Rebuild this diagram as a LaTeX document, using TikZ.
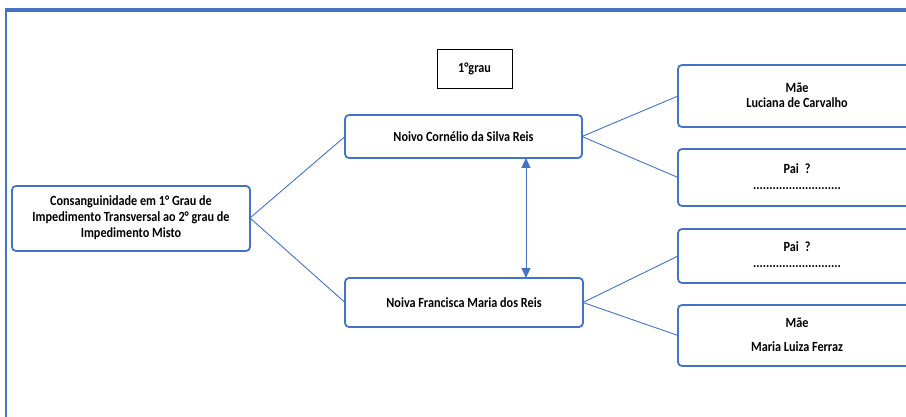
\documentclass[tikz,border=0pt]{standalone}
\usepackage{fontspec}
\usepackage{graphicx}
\setmainfont{Carlito}
\usetikzlibrary{arrows.meta}
\definecolor{ublue}{HTML}{4472C4}
\newcommand\tallt[1]{\scalebox{1}[1.15]{#1}}
\begin{document}
\begin{tikzpicture}[x=1pt,y=-1pt,
  bluebox/.style={draw=ublue,line width=1.8pt,rounded corners=4pt,fill=white},
  conn/.style={draw=ublue,line width=0.9pt},
  lbl/.style={font=\bfseries\fontsize{12.2}{15}\selectfont,inner sep=0pt}]
\useasboundingbox (0,0) rectangle (906,417);
\begin{scope}
\clip (0,0) rectangle (906,417);
% frame
\draw[ublue,line width=3.5pt] (5,10) -- (920,10);
\draw[ublue,line width=2.5pt] (6,9) -- (6,430);
% boxes
\draw[bluebox] (12,186) rectangle (250,251);
\coordinate (rootE) at (250,218);
\node[lbl] (root1) at (131,202) {\tallt{Consanguinidade em 1° Grau de}};
\node[lbl] (root2) at (131,218) {\tallt{Impedimento Transversal ao 2° grau de}};
\node[lbl] (root3) at (131,234) {\tallt{Impedimento Misto}};

\node[draw=black,line width=0.8pt,minimum width=75pt,minimum height=39pt,inner sep=0pt,lbl] (grau) at (474.5,68.5) {\tallt{1°grau}};

\draw[bluebox] (345,115) rectangle (582,158);
\node[lbl] (noivo) at (463.5,136.5) {\tallt{Noivo Cornélio da Silva Reis}};
\draw[bluebox] (345,278) rectangle (583,327);
\node[lbl] (noiva) at (464,302.5) {\tallt{Noiva Francisca Maria dos Reis}};

\draw[bluebox] (678,65) rectangle (916,127);
\node[lbl] (mae1a) at (797,88) {\tallt{Mãe}};
\node[lbl] (mae1b) at (797,103) {\tallt{Luciana de Carvalho}};

\draw[bluebox] (678,149) rectangle (916,206);
\node[lbl] (pai1a) at (797,169) {\tallt{Pai\hspace{6pt}?}};
\node[lbl] (pai1b) at (797,189) {\tallt{...........................}};

\draw[bluebox] (678,229) rectangle (916,283);
\node[lbl] (pai2a) at (797,247) {\tallt{Pai\hspace{6pt}?}};
\node[lbl] (pai2b) at (797,267) {\tallt{...........................}};

\draw[bluebox] (678,305) rectangle (916,366);
\node[lbl] (mae2a) at (797,323) {\tallt{Mãe}};
\node[lbl] (mae2b) at (797,347) {\tallt{Maria Luiza Ferraz}};

% connectors
\coordinate (noivoW) at (345,136.5);
\coordinate (noivoE) at (582,136.5);
\coordinate (noivaW) at (345,302.5);
\coordinate (noivaE) at (583,302.5);
\coordinate (mae1W) at (678,96);
\coordinate (pai1W) at (678,177.5);
\coordinate (pai2W) at (678,256);
\coordinate (mae2W) at (678,335.5);
\coordinate (noivoS) at (526,158);
\coordinate (noivaN) at (526,278);
\draw[conn] (rootE) -- (noivoW);
\draw[conn] (rootE) -- (noivaW);
\draw[conn] (noivoE) -- (mae1W);
\draw[conn] (noivoE) -- (pai1W);
\draw[conn] (noivaE) -- (pai2W);
\draw[conn] (noivaE) -- (mae2W);
\draw[conn,{Triangle[length=10pt,width=9pt]}-{Triangle[length=10pt,width=9pt]}] (noivoS) -- (noivaN);
\end{scope}
\end{tikzpicture}
\end{document}
